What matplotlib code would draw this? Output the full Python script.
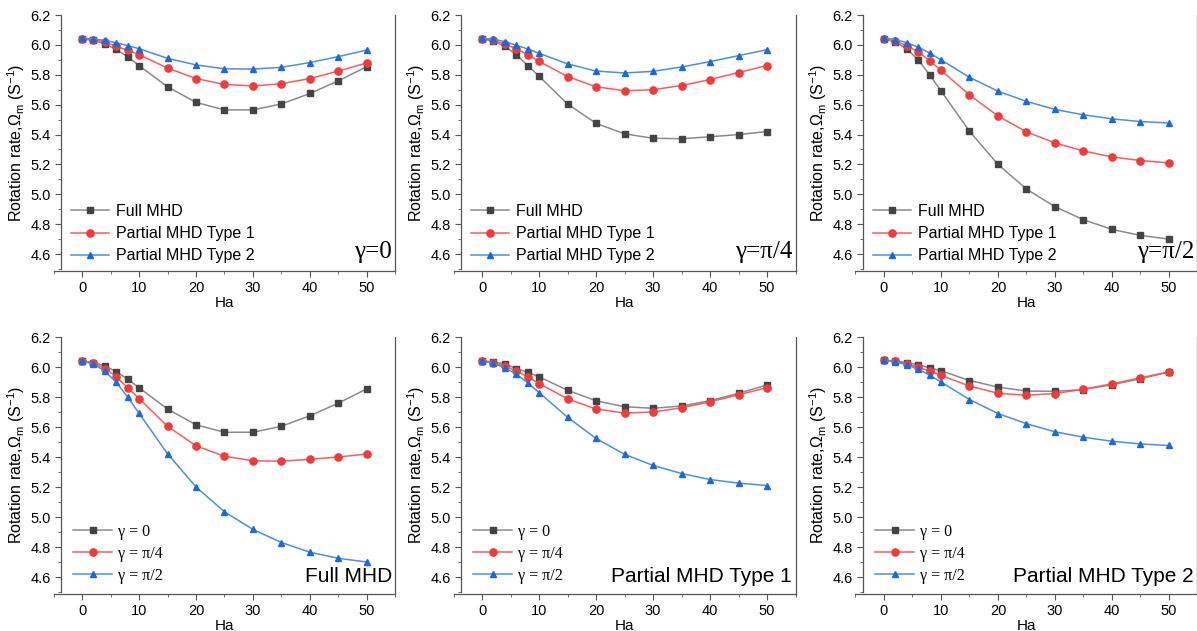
import matplotlib
matplotlib.use('Agg')
import matplotlib.pyplot as plt
from matplotlib.ticker import MultipleLocator

plt.rcParams['font.family'] = 'Liberation Sans'
plt.rcParams['mathtext.fontset'] = 'custom'
plt.rcParams['mathtext.rm'] = 'Liberation Sans'
plt.rcParams['mathtext.it'] = 'Liberation Sans:italic'

# ===== data =====
ha = [0, 2, 4, 6, 8, 10, 15, 20, 25, 30, 35, 40, 45, 50]

# gamma = 0
full_g0 = [6.04, 6.03, 6.007, 5.97, 5.92, 5.862, 5.72, 5.615, 5.565, 5.565, 5.605, 5.675, 5.76, 5.855]
t1_g0 = [6.04, 6.035, 6.02, 5.99, 5.965, 5.935, 5.845, 5.775, 5.735, 5.725, 5.74, 5.775, 5.825, 5.88]
t2_g0 = [6.045, 6.04, 6.03, 6.015, 5.995, 5.975, 5.91, 5.866, 5.84, 5.838, 5.85, 5.882, 5.922, 5.966]

# gamma = pi/4
full_g4 = [6.04, 6.025, 5.99, 5.935, 5.862, 5.79, 5.605, 5.475, 5.405, 5.375, 5.372, 5.385, 5.40, 5.42]
t1_g4 = [6.04, 6.03, 6.005, 5.975, 5.935, 5.89, 5.788, 5.72, 5.693, 5.70, 5.728, 5.768, 5.815, 5.862]
t2_g4 = [6.045, 6.038, 6.022, 5.998, 5.973, 5.944, 5.873, 5.825, 5.812, 5.823, 5.852, 5.888, 5.928, 5.968]

# gamma = pi/2
full_g2 = [6.04, 6.02, 5.973, 5.90, 5.80, 5.692, 5.422, 5.20, 5.035, 4.917, 4.83, 4.765, 4.725, 4.70]
t1_g2 = [6.04, 6.025, 5.995, 5.953, 5.895, 5.83, 5.665, 5.524, 5.418, 5.344, 5.29, 5.25, 5.226, 5.21]
t2_g2 = [6.045, 6.035, 6.015, 5.985, 5.946, 5.90, 5.783, 5.69, 5.622, 5.568, 5.532, 5.505, 5.487, 5.477]

model_labels = ["Full MHD", "Partial MHD Type 1", "Partial MHD Type 2"]
gamma_labels = ["γ = 0", "γ = π/4", "γ = π/2"]
gamma_tags = ["γ=0", "γ=π/4", "γ=π/2"]

line_colors = ["#8a8a8a", "#ff5a5a", "#4a8fe6"]
marker_colors = ["#444444", "#ee3b3b", "#1c6ad8"]
markers = ["s", "o", "^"]

top_panels = [
    [full_g0, t1_g0, t2_g0],
    [full_g4, t1_g4, t2_g4],
    [full_g2, t1_g2, t2_g2],
]
bottom_panels = [
    [full_g0, full_g4, full_g2],
    [t1_g0, t1_g4, t1_g2],
    [t2_g0, t2_g4, t2_g2],
]

fig = plt.figure(figsize=(11.97, 6.31), dpi=100)

lefts = [0.0447, 0.3789, 0.7147]
width = 0.2857
rows = [(0.5713, 0.4049), (0.0594, 0.4065)]


def style_axes(ax):
    ax.set_xlim(-5, 55)
    ax.set_ylim(4.49, 6.2)
    ax.spines['top'].set_visible(False)
    ax.spines['left'].set_position(('data', -3.7))
    ax.spines['left'].set_bounds(4.5, 6.2)
    for s in ['left', 'bottom', 'right']:
        ax.spines[s].set_color('#555555')
        ax.spines[s].set_linewidth(0.9)
    ax.xaxis.set_major_locator(MultipleLocator(10))
    ax.xaxis.set_minor_locator(MultipleLocator(5))
    ax.yaxis.set_major_locator(MultipleLocator(0.2))
    ax.yaxis.set_minor_locator(MultipleLocator(0.1))
    ax.tick_params(which='both', direction='out', color='#555555', labelsize=10.5)
    ax.tick_params(which='major', length=4)
    ax.tick_params(which='minor', length=2.5)
    ax.tick_params(axis='y', right=False)
    ax.set_yticks([4.6, 4.8, 5.0, 5.2, 5.4, 5.6, 5.8, 6.0, 6.2])
    ax.set_yticklabels(['4.6', '4.8', '5.0', '5.2', '5.4', '5.6', '5.8', '6.0', '6.2'])
    ax.set_xlabel("Ha", fontsize=11, labelpad=1)
    ax.set_ylabel("Rotation rate,Ω$_{\\mathrm{m}}$ (S$^{-1}$)", fontsize=11.5, labelpad=2)


for r, (bottom, height) in enumerate(rows):
    for c in range(3):
        ax = fig.add_axes([lefts[c], bottom, width, height])
        series = top_panels[c] if r == 0 else bottom_panels[c]
        labels = model_labels if r == 0 else gamma_labels
        for k, vals in enumerate(series):
            ax.plot(ha, vals, color=line_colors[k], lw=1.1, marker=markers[k],
                    markersize=4.6 if k != 1 else 5.2, markerfacecolor=marker_colors[k],
                    markeredgecolor=marker_colors[k], label=labels[k])
        style_axes(ax)
        if r == 0:
            leg = ax.legend(loc='lower left', bbox_to_anchor=(0.03, 0.0), frameon=False,
                            fontsize=11.5, handlelength=2.4, labelspacing=0.45,
                            handletextpad=0.4, borderaxespad=0.05)
            ax.text(0.99, 0.03, gamma_tags[c], transform=ax.transAxes, ha='right',
                    va='bottom', fontsize=18, family='Liberation Serif')
        else:
            leg = ax.legend(loc='lower left', bbox_to_anchor=(0.03, 0.0), frameon=False,
                            prop={'family': 'Liberation Serif', 'size': 11.5},
                            handlelength=2.4, labelspacing=0.38,
                            handletextpad=0.4, borderaxespad=0.2)
            ax.text(0.99, 0.03, model_labels[c], transform=ax.transAxes, ha='right',
                    va='bottom', fontsize=15)

plt.savefig("out.png", dpi=100)
